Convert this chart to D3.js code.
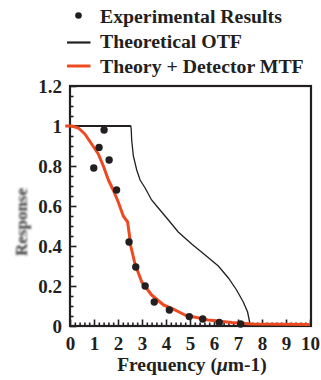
<!DOCTYPE html>
<html><head><meta charset="utf-8">
<script src="https://cdn.jsdelivr.net/npm/d3@7"></script>
<style>
html,body{margin:0;padding:0;background:#fff;}
svg{display:block;}
text{font-family:"Liberation Serif","Times New Roman",serif;font-weight:bold;fill:#231f20;}
</style></head>
<body>
<svg id="chart" width="321" height="380"></svg>
<script>
// ---- data ----
const experimentalFreq = [0.99, 1.21, 1.42, 1.63, 1.94, 2.46, 2.74, 3.13, 3.51, 4.14, 4.97, 5.53, 6.22, 7.11];
const experimentalResp = [0.79, 0.893, 0.98, 0.83, 0.68, 0.42, 0.295, 0.20, 0.12, 0.08, 0.047, 0.035, 0.018, 0.01];

const otfFreq = [0, 2.53, 2.55, 2.57, 2.64, 2.78, 2.92, 3.13, 3.40, 3.68, 4.10, 4.51, 5.07, 5.63, 6.18, 6.60, 6.94, 7.22, 7.40, 7.50, 7.53, 10];
const otfResp = [1, 1, 0.985, 0.93, 0.85, 0.78, 0.73, 0.69, 0.63, 0.59, 0.53, 0.47, 0.41, 0.355, 0.30, 0.24, 0.18, 0.12, 0.07, 0.01, 0, 0];

const mtfFreq = [-0.2, 0.07, 0.35, 0.62, 0.90, 1.18, 1.39, 1.60, 1.80, 2.01, 2.22, 2.40, 2.47, 2.53, 2.71, 2.99, 3.40, 3.90, 4.38, 4.79, 5.76, 6.74, 7.57, 10];
const mtfResp = [1.0, 1.0, 0.99, 0.96, 0.91, 0.86, 0.80, 0.73, 0.68, 0.62, 0.55, 0.52, 0.46, 0.40, 0.31, 0.22, 0.155, 0.105, 0.08, 0.055, 0.03, 0.017, 0.01, 0.008];

const xTickValues = [0,1,2,3,4,5,6,7,8,9,10];
const xTickLabels = ["0","1","2","3","4","5","6","7","8","9","10"];
const yTickValues = [0,0.2,0.4,0.6,0.8,1,1.2];
const yTickLabels = ["0","0.2","0.4","0.6","0.8","1","1.2"];

const legendLabels = ["Experimental Results", "Theoretical OTF", "Theory + Detector MTF"];
const xTitle = "Frequency (";
const xTitleMu = "\u03bc";
const xTitleEnd = "m-1)";
const yTitle = "Response";

// ---- drawing ----
const orange = "#ee4a22";
const ink = "#231f20";
const svg = d3.select("#chart");
const x = d3.scaleLinear().domain([0,10]).range([70,310]);
const y = d3.scaleLinear().domain([0,1.2]).range([326,86]);

// minor ticks
const xMinor = d3.range(0, 10.001, 0.2).filter(v => Math.abs(v - Math.round(v)) > 1e-6);
const yMinor = d3.range(0, 1.2001, 0.05).filter(v => Math.abs(v*5 - Math.round(v*5)) > 1e-6);

svg.append("g").attr("transform", `translate(0,${y(0)})`)
  .call(d3.axisBottom(x).tickValues(xMinor).tickSize(-3.5).tickFormat(""))
  .call(g => g.select(".domain").remove())
  .selectAll("line").attr("stroke", ink).attr("stroke-width", 1.6);
svg.append("g").attr("transform", `translate(${x(0)},0)`)
  .call(d3.axisLeft(y).tickValues(yMinor).tickSize(-3.5).tickFormat(""))
  .call(g => g.select(".domain").remove())
  .selectAll("line").attr("stroke", ink).attr("stroke-width", 1.6);

const xAxis = svg.append("g").attr("transform", `translate(0,${y(0)})`)
  .call(d3.axisBottom(x).tickValues(xTickValues).tickSize(-6.5).tickPadding(11)
    .tickFormat((d,i) => xTickLabels[i]));
xAxis.select(".domain").remove();
xAxis.selectAll("line").attr("stroke", ink).attr("stroke-width", 1.6);
xAxis.selectAll("text").attr("font-size", 19).attr("font-family", null).attr("fill", ink);

const yAxis = svg.append("g").attr("transform", `translate(${x(0)},0)`)
  .call(d3.axisLeft(y).tickValues(yTickValues).tickSize(-6.5).tickPadding(8)
    .tickFormat((d,i) => yTickLabels[i]));
yAxis.select(".domain").remove();
yAxis.selectAll("line").attr("stroke", ink).attr("stroke-width", 1.6);
yAxis.selectAll("text").attr("font-size", 19).attr("font-family", null).attr("fill", ink);
svg.selectAll(".tick text").style("font-family", '"Liberation Serif",serif').style("font-weight","bold");

// frame
svg.append("rect")
  .attr("x", x(0)).attr("y", y(1.2))
  .attr("width", x(10) - x(0) + 1).attr("height", y(0) - y(1.2))
  .attr("fill", "none").attr("stroke", ink).attr("stroke-width", 2.2);

// lines
const otfData = otfFreq.map((f,i) => [f, otfResp[i]]);
const mtfData = mtfFreq.map((f,i) => [f, mtfResp[i]]);
const line = d3.line().x(d => x(d[0])).y(d => y(d[1]));

svg.append("path").datum(otfData).attr("d", line)
  .attr("fill","none").attr("stroke", ink).attr("stroke-width", 1.3);
// emphasise flat segment at unity like the reference
svg.append("path").datum(otfData.slice(0,2)).attr("d", line)
  .attr("fill","none").attr("stroke", ink).attr("stroke-width", 2.2);

svg.append("path").datum(mtfData).attr("d", line)
  .attr("fill","none").attr("stroke", orange).attr("stroke-width", 3)
  .attr("stroke-linejoin","round");

// dots
svg.append("g").selectAll("circle")
  .data(experimentalFreq.map((f,i) => [f, experimentalResp[i]]))
  .join("circle")
  .attr("cx", d => x(d[0])).attr("cy", d => y(d[1])).attr("r", 3.7)
  .attr("fill", ink);

// axis titles
const xt = svg.append("text").attr("x", (x(0)+x(10))/2 + 2).attr("y", 371)
  .attr("text-anchor","middle").attr("font-size", 19.5);
xt.append("tspan").text(xTitle);
xt.append("tspan").attr("font-style","italic").text(xTitleMu);
xt.append("tspan").text(xTitleEnd);

const defs = svg.append("defs");
defs.append("filter").attr("id","blur").append("feGaussianBlur").attr("stdDeviation", 1.0);
svg.append("text")
  .attr("transform", "translate(27,222) rotate(-90)")
  .attr("text-anchor","middle").attr("font-size", 17)
  .style("fill","#3a3a3a")
  .attr("filter","url(#blur)")
  .text(yTitle);

// legend
const lg = svg.append("g");
lg.append("circle").attr("cx", 78.5).attr("cy", 15.5).attr("r", 3.3).attr("fill", ink);
lg.append("line").attr("x1", 67).attr("x2", 90.5).attr("y1", 42.5).attr("y2", 42.5)
  .attr("stroke", ink).attr("stroke-width", 2.2);
lg.append("line").attr("x1", 67).attr("x2", 90.5).attr("y1", 66).attr("y2", 66)
  .attr("stroke", orange).attr("stroke-width", 3);
const legendY = [23, 48, 72.5];
lg.selectAll("text.leg").data(legendLabels).join("text").attr("class","leg")
  .attr("x", 100).attr("y", (d,i) => legendY[i]).attr("font-size", 19.8)
  .text(d => d);
</script>
</body></html>
